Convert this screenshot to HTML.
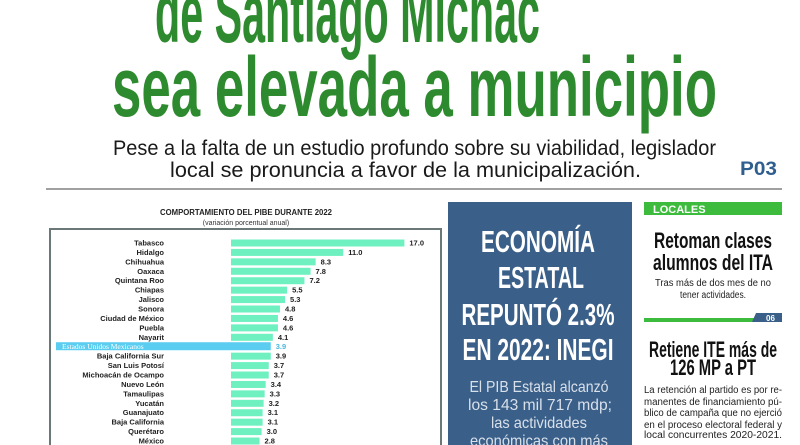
<!DOCTYPE html>
<html><head><meta charset="utf-8"><style>
html,body{margin:0;padding:0;background:#fff;width:800px;height:445px;overflow:hidden}
svg{display:block}
</style></head><body>
<svg width="800" height="445" viewBox="0 0 800 445" xmlns="http://www.w3.org/2000/svg" font-family="Liberation Sans Narrow, Liberation Sans, sans-serif">
<text x="155" y="42" font-size="84" font-weight="bold" fill="#2e8a2e" textLength="385" lengthAdjust="spacingAndGlyphs">de Santiago Michac</text>
<text x="112" y="116" font-size="84" font-weight="bold" fill="#2e8a2e" textLength="605" lengthAdjust="spacingAndGlyphs">sea elevada a municipio</text>
<text x="113" y="155" font-size="21" fill="#1a1a1a" textLength="603" lengthAdjust="spacingAndGlyphs">Pese a la falta de un estudio profundo sobre su viabilidad, legislador</text>
<text x="170" y="177" font-size="21" fill="#1a1a1a" textLength="471" lengthAdjust="spacingAndGlyphs">local se pronuncia a favor de la municipalización.</text>
<text x="740" y="175" font-size="19" font-weight="bold" fill="#2f5f8e" font-family="Liberation Sans, sans-serif" textLength="37" lengthAdjust="spacingAndGlyphs">P03</text>
<rect x="46" y="188" width="736" height="2" fill="#a0a0a0"/>

<text x="246" y="215" font-size="8" font-weight="bold" fill="#222" text-anchor="middle" font-family="Liberation Sans, sans-serif" textLength="172" lengthAdjust="spacingAndGlyphs">COMPORTAMIENTO DEL PIBE DURANTE 2022</text>
<text x="246" y="225" font-size="7" fill="#333" text-anchor="middle" font-family="Liberation Sans, sans-serif">(variación porcentual anual)</text>
<rect x="50" y="229" width="391" height="230" fill="none" stroke="#6a7878" stroke-width="2"/>
<g font-family="Liberation Sans, sans-serif" font-size="7.5" font-weight="bold" fill="#222">
<g id="rows"></g>
</g>
<rect x="448" y="202" width="184" height="243" fill="#3a5f89"/>
<g fill="#fff" font-weight="bold" font-size="31" text-anchor="middle">
<text x="538" y="252" textLength="114" lengthAdjust="spacingAndGlyphs">ECONOMÍA</text>
<text x="541" y="288" textLength="86" lengthAdjust="spacingAndGlyphs">ESTATAL</text>
<text x="538" y="325" textLength="153" lengthAdjust="spacingAndGlyphs">REPUNTÓ 2.3%</text>
<text x="538" y="360" textLength="151" lengthAdjust="spacingAndGlyphs">EN 2022: INEGI</text>
</g>
<g fill="#d8e0ea" font-size="16" text-anchor="middle" font-family="Liberation Sans, sans-serif">
<text x="539" y="392" textLength="139" lengthAdjust="spacingAndGlyphs">El PIB Estatal alcanzó</text>
<text x="540" y="410" textLength="144" lengthAdjust="spacingAndGlyphs">los 143 mil 717 mdp;</text>
<text x="539" y="428" textLength="96" lengthAdjust="spacingAndGlyphs">las actividades</text>
<text x="539" y="446" textLength="138" lengthAdjust="spacingAndGlyphs">económicas con más</text>
</g>
<rect x="644" y="202" width="138" height="13" fill="#3dbb3d"/>
<text x="653" y="213" font-size="11" font-weight="bold" fill="#fff" font-family="Liberation Sans, sans-serif">LOCALES</text>
<g font-weight="bold" fill="#111" text-anchor="middle" font-size="22">
<text x="713" y="248" textLength="118" lengthAdjust="spacingAndGlyphs">Retoman clases</text>
<text x="713" y="270" textLength="120" lengthAdjust="spacingAndGlyphs">alumnos del ITA</text>
<text x="713" y="357" textLength="128" lengthAdjust="spacingAndGlyphs">Retiene ITE más de</text>
<text x="713" y="375" textLength="86" lengthAdjust="spacingAndGlyphs">126 MP a PT</text>
</g>
<g fill="#222" font-size="10" text-anchor="middle" font-family="Liberation Sans, sans-serif">
<text x="713" y="286" textLength="116" lengthAdjust="spacingAndGlyphs">Tras más de dos mes de no</text>
<text x="713" y="298" textLength="66" lengthAdjust="spacingAndGlyphs">tener actividades.</text>
<text x="713" y="393" textLength="138" lengthAdjust="spacingAndGlyphs">La retención al partido es por re-</text>
<text x="713" y="405" textLength="138" lengthAdjust="spacingAndGlyphs">manentes de financiamiento pú-</text>
<text x="713" y="416" textLength="138" lengthAdjust="spacingAndGlyphs">blico de campaña que no ejerció</text>
<text x="713" y="428" textLength="138" lengthAdjust="spacingAndGlyphs">en el proceso electoral federal y</text>
<text x="713" y="438" textLength="138" lengthAdjust="spacingAndGlyphs">local concurrentes 2020-2021.</text>
</g>
<rect x="644" y="318" width="112" height="4" fill="#3dbb3d"/>
<polygon points="756,313 782,313 782,322 752,322" fill="#3a5f89"/>
<text x="766" y="321" font-size="8" font-weight="bold" fill="#fff" font-family="Liberation Sans, sans-serif">06</text>
</svg>
<script>
var d=[["Tabasco",17.0],["Hidalgo",11.0],["Chihuahua",8.3],["Oaxaca",7.8],["Quintana Roo",7.2],["Chiapas",5.5],["Jalisco",5.3],["Sonora",4.8],["Ciudad de México",4.6],["Puebla",4.6],["Nayarit",4.1],["Estados Unidos Mexicanos",3.9],["Baja California Sur",3.9],["San Luis Potosí",3.7],["Michoacán de Ocampo",3.7],["Nuevo León",3.4],["Tamaulipas",3.3],["Yucatán",3.2],["Guanajuato",3.1],["Baja California",3.1],["Querétaro",3.0],["México",2.8]];
var g=document.getElementById("rows"),h="";
d.forEach(function(r,i){var y=243+i*9.43,w=r[1]*10.2;
if(i==11){h+='<rect x="56" y="'+(y-4.5)+'" width="'+(231+w-56)+'" height="8" fill="#5acdf0"/>';
h+='<text x="62" y="'+(y+2.5)+'" fill="#fff" font-weight="normal" font-family="Liberation Serif, serif">'+r[0]+'</text>';
h+='<text x="'+(231+w+5)+'" y="'+(y+2.5)+'" fill="#4ab8e0">'+r[1].toFixed(1)+'</text>';}
else{h+='<rect x="231" y="'+(y-3.5)+'" width="'+w+'" height="7" fill="#6ef0c0"/>';
h+='<text x="164" y="'+(y+2.5)+'" text-anchor="end">'+r[0]+'</text>';
h+='<text x="'+(231+w+5)+'" y="'+(y+2.5)+'">'+r[1].toFixed(1)+'</text>';}});
g.innerHTML=h;
</script>
</body></html>
